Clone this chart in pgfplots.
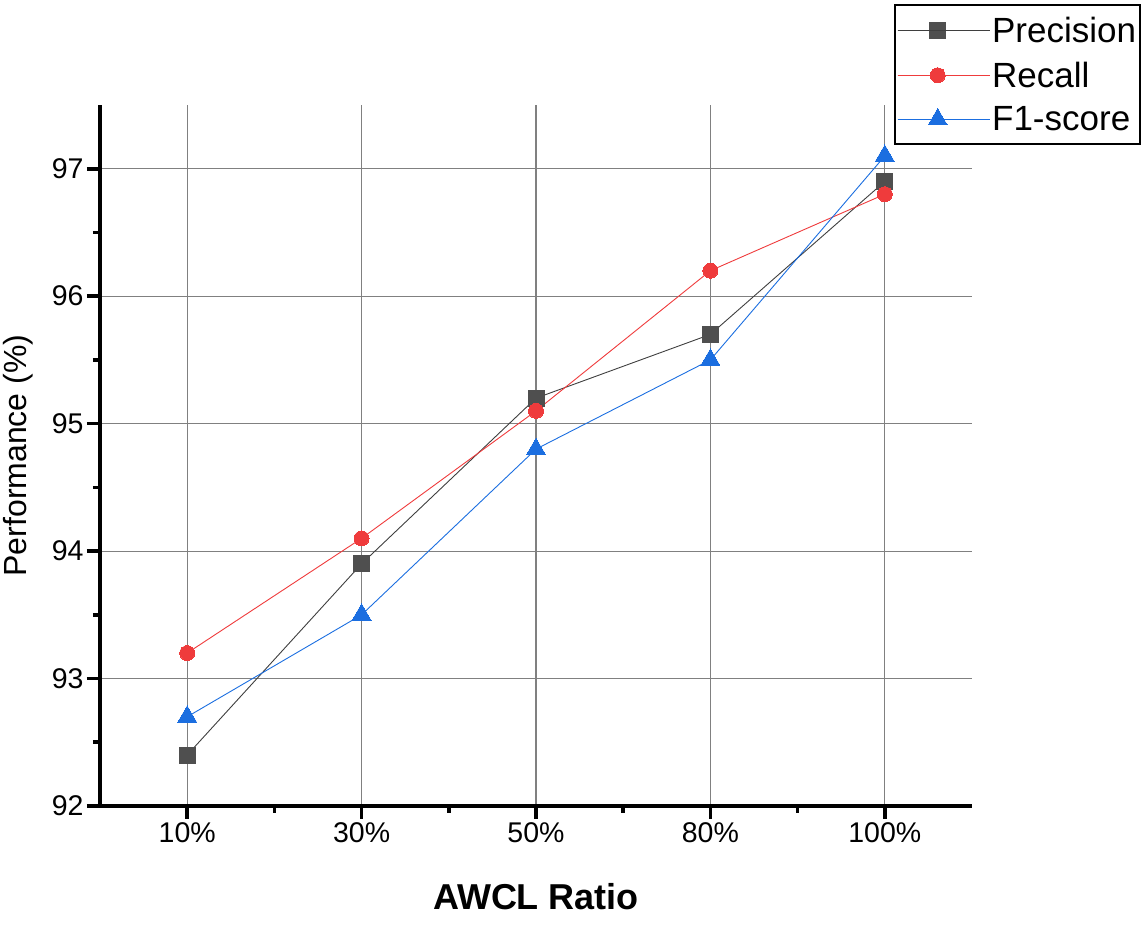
\documentclass[border=0pt]{standalone}
\usepackage{fontspec}
\setmainfont{Liberation Sans}
\usepackage{pgfplots}
\pgfplotsset{compat=1.18}
\definecolor{cprec}{HTML}{4F4F4F}
\definecolor{crec}{HTML}{EF3B3C}
\definecolor{cf1}{HTML}{1B6EE0}
\begin{document}
\begin{tikzpicture}[x=1pt,y=1pt]
\path[use as bounding box] (0,0) rectangle (1146,926);
\begin{axis}[
  at={(100pt,120pt)}, anchor=south west,
  scale only axis, width=872pt, height=701pt,
  xmin=-0.5, xmax=4.5, ymin=92, ymax=97.5,
  xtick={0,1,2,3,4},
  xticklabels={10\%,30\%,50\%,80\%,100\%},
  ytick={92,93,94,95,96,97},
  minor x tick num=1, minor y tick num=1,
  axis x line*=bottom, axis y line*=left,
  axis line style={line width=3.6pt, black},
  tick align=outside,
  major tick length=13pt, minor tick length=7pt,
  every tick/.append style={line width=3.6pt, black},
  every major tick/.append style={line width=3.6pt, black},
  every minor tick/.append style={line width=3.6pt, black},
  grid=major,
  major grid style={line width=1.1pt, color=black!50},
  /pgf/number format/assume math mode=true,
  tick label style={font=\fontsize{28.5}{30}\selectfont},
  xlabel={\textbf{AWCL Ratio}},
  ylabel={Performance (\%)},
  xlabel style={font=\fontsize{36}{40}\selectfont, at={(axis description cs:0.5,-0.13)}, anchor=center},
  ylabel style={font=\fontsize{32}{36}\selectfont, at={(axis description cs:-0.094,0.5)}, anchor=center},
  legend style={at={(1.1938,1.144)}, anchor=north east, draw=black, line width=1.8pt,
    font=\fontsize{35}{40}\selectfont, inner xsep=2pt, inner ysep=10pt, row sep=14pt,
    cells={anchor=west}},
  legend image code/.code={\draw[#1, mark repeat=2, mark phase=2] plot coordinates {(0pt,0pt) (40pt,0pt) (80pt,0pt)};
    \path (0pt,0pt) -- (92pt,0pt);},
]
\addplot[color=cprec!80!black, line width=0.9pt, mark=square*, mark size=8pt, mark options={fill=cprec, draw=cprec, line width=0pt}]
  coordinates {(0,92.4) (1,93.9) (2,95.2) (3,95.7) (4,96.9)};
\addlegendentry{Precision}
\addplot[color=crec, line width=0.9pt, mark=*, mark size=7.5pt, mark options={fill=crec, draw=crec, line width=0pt}]
  coordinates {(0,93.2) (1,94.1) (2,95.1) (3,96.2) (4,96.8)};
\addlegendentry{Recall}
\addplot[color=cf1, line width=0.9pt, mark=triangle*, mark size=11pt, mark options={fill=cf1, draw=cf1, line width=0pt}]
  coordinates {(0,92.7) (1,93.5) (2,94.8) (3,95.5) (4,97.1)};
\addlegendentry{F1-score}
\end{axis}
\end{tikzpicture}
\end{document}
